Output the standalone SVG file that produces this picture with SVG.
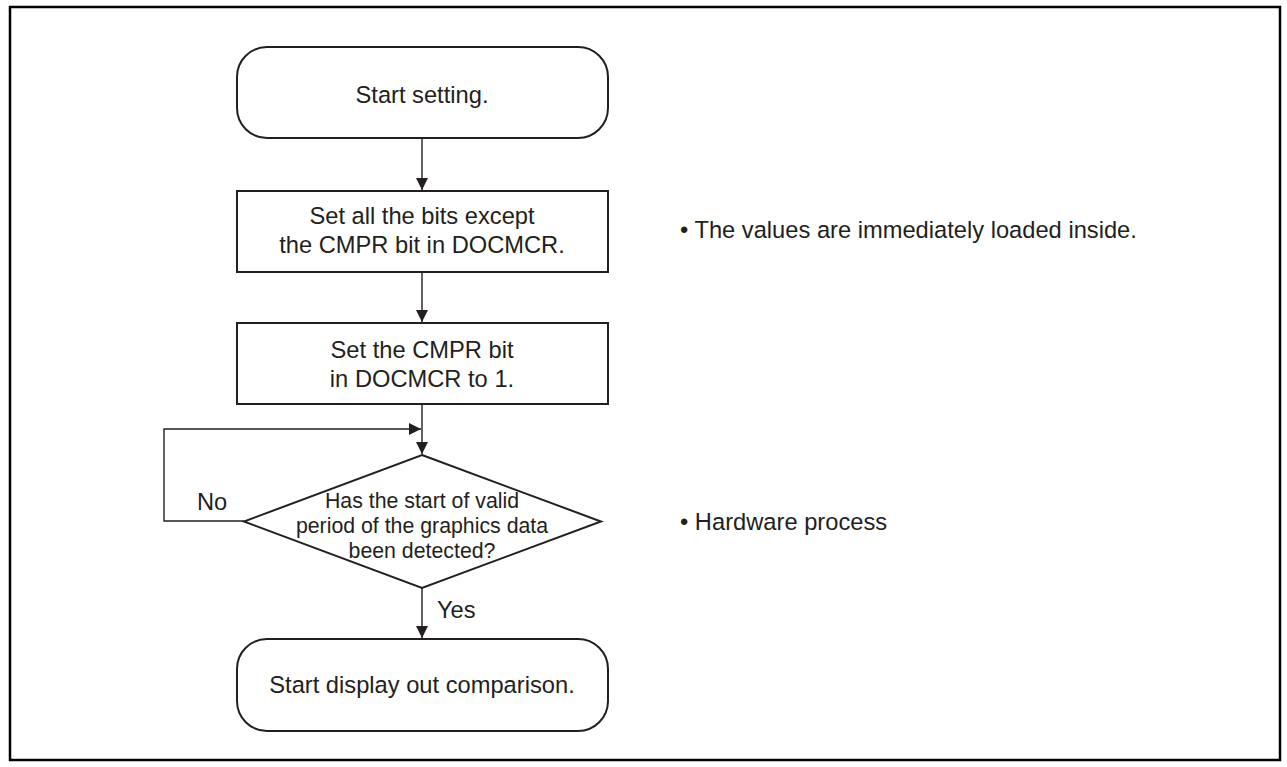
<svg xmlns="http://www.w3.org/2000/svg" width="1287" height="767" viewBox="0 0 1287 767">
<style>
.frame{fill:none;stroke:#000;stroke-width:2.5}
.box{fill:#fff;stroke:#231f20;stroke-width:2}
.conn{fill:none;stroke:#231f20;stroke-width:1.4}
.t{font-family:"Liberation Sans",Arial,Helvetica,sans-serif;font-size:23.7px;fill:#231f20}
.c{text-anchor:middle}
.d{font-size:21.3px}
</style>
<defs>
<marker id="ah" markerWidth="12" markerHeight="12" viewBox="0 0 12 12" refX="12" refY="6" orient="auto" markerUnits="userSpaceOnUse">
<path d="M0,0 L12,6 L0,12 Z" fill="#231f20"/>
</marker>
</defs>
<rect width="1287" height="767" fill="#fff"/>
<rect class="frame" x="10" y="7" width="1270" height="753"/>
<g id="connectors">
<line class="conn" x1="422" y1="138" x2="422" y2="190" marker-end="url(#ah)"/>
<line class="conn" x1="422" y1="272" x2="422" y2="322" marker-end="url(#ah)"/>
<line class="conn" x1="422" y1="404" x2="422" y2="454" marker-end="url(#ah)"/>
<line class="conn" x1="422" y1="588" x2="422" y2="638" marker-end="url(#ah)"/>
<polyline class="conn" points="244,521 164,521 164,429 421,429" marker-end="url(#ah)"/>
<text class="t" x="197" y="510">No</text>
<text class="t" x="437" y="618">Yes</text>
</g>
<g id="start">
<rect class="box" x="237" y="47" width="371" height="91" rx="30" ry="30"/>
<text class="t c" x="422" y="103">Start setting.</text>
</g>
<g id="set-bits">
<rect class="box" x="237" y="191" width="371" height="81"/>
<text class="t c" x="422" y="224">Set all the bits except</text>
<text class="t c" x="422" y="253">the CMPR bit in DOCMCR.</text>
</g>
<g id="set-cmpr">
<rect class="box" x="237" y="323" width="371" height="81"/>
<text class="t c" x="422" y="358">Set the CMPR bit</text>
<text class="t c" x="422" y="387">in DOCMCR to 1.</text>
</g>
<g id="decision">
<polygon class="box" points="422,455 601,521.5 422,588 244,521.5"/>
<text class="t d c" x="422" y="508">Has the start of valid</text>
<text class="t d c" x="422" y="533">period of the graphics data</text>
<text class="t d c" x="422" y="558">been detected?</text>
</g>
<g id="end">
<rect class="box" x="237" y="639" width="371" height="92" rx="30" ry="30"/>
<text class="t c" x="422" y="693">Start display out comparison.</text>
</g>
<g id="note-1">
<text class="t" x="680" y="238">• The values are immediately loaded inside.</text>
</g>
<g id="note-2">
<text class="t" x="680" y="530">• Hardware process</text>
</g>
</svg>
